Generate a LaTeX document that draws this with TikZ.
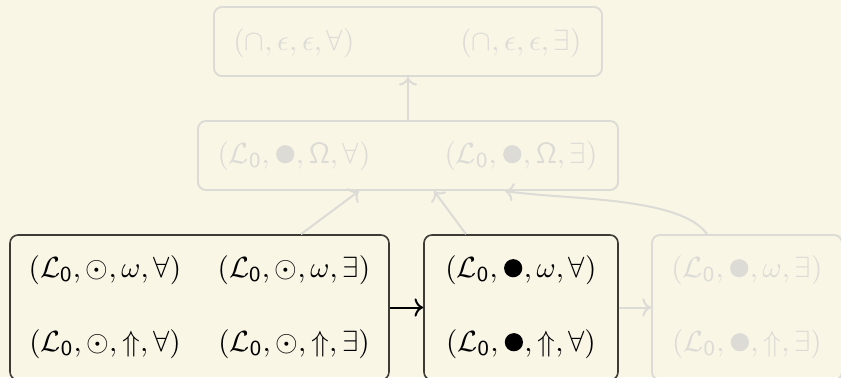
\documentclass[tikz,border=0pt]{standalone}
\usepackage{amsmath,amssymb}
\usetikzlibrary{arrows.meta,calc}
\definecolor{bg}{HTML}{F9F6E6}
\definecolor{faded}{HTML}{DCDBD5}
\definecolor{dark}{HTML}{3C3C34}
\newcommand{\bdot}{\mathord{\kern0.05em\tikz[baseline=0pt]\fill (0,0.31em) circle[radius=0.31em];\kern0.05em}}
\newcommand{\Lz}{\mathcal{L}_{\mathsf{0}}}
\begin{document}
\begin{tikzpicture}[x=0.375pt,y=-0.375pt,
  font=\fontsize{11}{13}\selectfont,
  box/.style={rectangle, rounded corners=3pt, draw=dark, line width=0.6pt, inner sep=0pt},
  fbox/.style={box, draw=faded, line width=0.7pt},
  cell/.style={inner sep=0pt, text=black},
  fcell/.style={inner sep=0pt, text=faded},
  arr/.style={-{Computer Modern Rightarrow}, line width=0.75pt, draw=black},
  farr/.style={-{Computer Modern Rightarrow}, line width=0.75pt, draw=faded}]
\fill[bg] (0,0) rectangle (841,377);
\useasboundingbox (0,0) rectangle (841,377);
\clip (0,0) rectangle (841,377);
% boxes
\node[box, minimum width=142.1pt, minimum height=54.4pt] (L) at (199.5,307.5) {};
\node[box, minimum width=72.75pt, minimum height=54.4pt] (M) at (521,307.5) {};
\node[fbox, minimum width=71.25pt, minimum height=54.4pt] (R) at (747,307.5) {};
\node[fbox, minimum width=157.5pt, minimum height=25.9pt] (U) at (408,155.5) {};
\node[fbox, minimum width=145.5pt, minimum height=25.9pt] (T) at (408,41.5) {};
% texts
\node[fcell] (t1) at (294,43) {$(\cap,\epsilon,\epsilon,\forall)$};
\node[fcell] (t2) at (521,43) {$(\cap,\epsilon,\epsilon,\exists)$};
\node[fcell] (u1) at (294,156) {$(\Lz,\bdot,\mathsf{\Omega},\forall)$};
\node[fcell] (u2) at (521,156) {$(\Lz,\bdot,\mathsf{\Omega},\exists)$};
\node[cell] (l1) at (105,270) {$(\Lz,\odot,\omega,\forall)$};
\node[cell] (l2) at (294,270) {$(\Lz,\odot,\omega,\exists)$};
\node[cell] (l3) at (105,344) {$(\Lz,\odot,\Uparrow,\forall)$};
\node[cell] (l4) at (294,344) {$(\Lz,\odot,\Uparrow,\exists)$};
\node[cell] (m1) at (521,270) {$(\Lz,\bdot,\omega,\forall)$};
\node[cell] (m2) at (521,344) {$(\Lz,\bdot,\Uparrow,\forall)$};
\node[fcell] (r1) at (747,270) {$(\Lz,\bdot,\omega,\exists)$};
\node[fcell] (r2) at (747,344) {$(\Lz,\bdot,\Uparrow,\exists)$};
% connectors
\draw[arr] (L.east) -- (M.west);
\draw[farr] (M.east) -- (R.west);
\draw[farr] ($(L.north)+(101.5,0)$) -- ($(U.south)+(-49,0)$);
\draw[farr] ($(M.north)+(-55,0)$) -- ($(U.south)+(26,0)$);
\draw[farr] ($(R.north)+(-40,0)$) .. controls (680,196) and (565,200) .. ($(U.south)+(97,0)$);
\draw[farr] (U) -- (T);
\end{tikzpicture}
\end{document}
